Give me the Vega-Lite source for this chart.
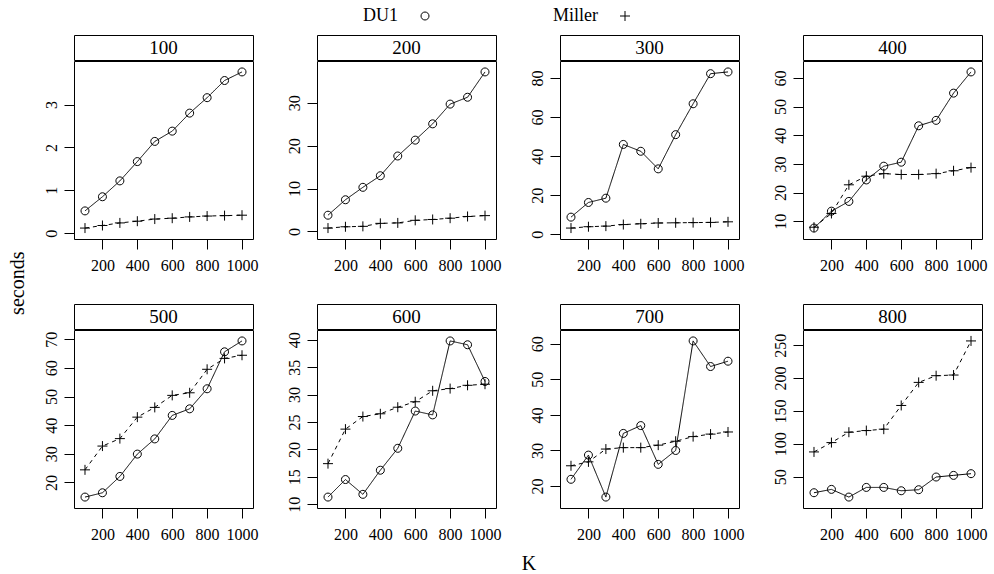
{
  "$schema": "https://vega.github.io/schema/vega-lite/v6.json",
  "padding": {"left": 7, "top": 7, "right": 4, "bottom": 0},
  "config": {
    "font": "Liberation Serif",
    "style": {"guide-label": {"font": "Liberation Serif"}, "guide-title": {"font": "Liberation Serif"}},
    "view": {"stroke": "black", "strokeWidth": 1},
    "axis": {"grid": false, "domain": false, "tickColor": "black", "tickSize": 10, "tickWidth": 1, "labelColor": "black", "labelFontSize": 16, "labelFont": "Liberation Serif", "labelFlush": false, "labelOverlap": false, "format": "d"},
    "axisX": {"labelPadding": 8},
    "axisY": {"labelAngle": 270, "labelAlign": "center", "labelBaseline": "bottom", "labelPadding": 5},
    "title": {"font": "Liberation Serif", "fontSize": 20, "fontWeight": "normal", "color": "black"},
    "legend": {"orient": "none", "legendX": 342, "legendY": -28, "direction": "horizontal", "labelFontSize": 18, "labelFont": "Liberation Serif", "labelColor": "black", "labelAlign": "right", "labelOffset": -36, "columnPadding": 122, "symbolSize": 100, "symbolStrokeWidth": 1, "symbolStrokeColor": "black"}
  },
  "datasets": {
    "strips": [{"panel": 100}, {"panel": 200}, {"panel": 300}, {"panel": 400}, {"panel": 500}, {"panel": 600}, {"panel": 700}, {"panel": 800}],
    "d": [
      {"panel":100,"K":100,"method":"DU1","seconds":0.52},{"panel":100,"K":200,"method":"DU1","seconds":0.85},{"panel":100,"K":300,"method":"DU1","seconds":1.22},{"panel":100,"K":400,"method":"DU1","seconds":1.67},{"panel":100,"K":500,"method":"DU1","seconds":2.14},{"panel":100,"K":600,"method":"DU1","seconds":2.38},{"panel":100,"K":700,"method":"DU1","seconds":2.80},{"panel":100,"K":800,"method":"DU1","seconds":3.16},{"panel":100,"K":900,"method":"DU1","seconds":3.56},{"panel":100,"K":1000,"method":"DU1","seconds":3.76},
      {"panel":100,"K":100,"method":"Miller","seconds":0.12},{"panel":100,"K":200,"method":"Miller","seconds":0.18},{"panel":100,"K":300,"method":"Miller","seconds":0.24},{"panel":100,"K":400,"method":"Miller","seconds":0.28},{"panel":100,"K":500,"method":"Miller","seconds":0.33},{"panel":100,"K":600,"method":"Miller","seconds":0.35},{"panel":100,"K":700,"method":"Miller","seconds":0.38},{"panel":100,"K":800,"method":"Miller","seconds":0.40},{"panel":100,"K":900,"method":"Miller","seconds":0.41},{"panel":100,"K":1000,"method":"Miller","seconds":0.42},
      {"panel":200,"K":100,"method":"DU1","seconds":3.8},{"panel":200,"K":200,"method":"DU1","seconds":7.4},{"panel":200,"K":300,"method":"DU1","seconds":10.3},{"panel":200,"K":400,"method":"DU1","seconds":13.0},{"panel":200,"K":500,"method":"DU1","seconds":17.6},{"panel":200,"K":600,"method":"DU1","seconds":21.3},{"panel":200,"K":700,"method":"DU1","seconds":25.1},{"panel":200,"K":800,"method":"DU1","seconds":29.7},{"panel":200,"K":900,"method":"DU1","seconds":31.3},{"panel":200,"K":1000,"method":"DU1","seconds":37.2},
      {"panel":200,"K":100,"method":"Miller","seconds":0.8},{"panel":200,"K":200,"method":"Miller","seconds":1.1},{"panel":200,"K":300,"method":"Miller","seconds":1.2},{"panel":200,"K":400,"method":"Miller","seconds":1.9},{"panel":200,"K":500,"method":"Miller","seconds":2.0},{"panel":200,"K":600,"method":"Miller","seconds":2.6},{"panel":200,"K":700,"method":"Miller","seconds":2.8},{"panel":200,"K":800,"method":"Miller","seconds":3.1},{"panel":200,"K":900,"method":"Miller","seconds":3.5},{"panel":200,"K":1000,"method":"Miller","seconds":3.7},
      {"panel":300,"K":100,"method":"DU1","seconds":8.8},{"panel":300,"K":200,"method":"DU1","seconds":16.3},{"panel":300,"K":300,"method":"DU1","seconds":18.5},{"panel":300,"K":400,"method":"DU1","seconds":46.0},{"panel":300,"K":500,"method":"DU1","seconds":42.5},{"panel":300,"K":600,"method":"DU1","seconds":33.5},{"panel":300,"K":700,"method":"DU1","seconds":51.0},{"panel":300,"K":800,"method":"DU1","seconds":66.8},{"panel":300,"K":900,"method":"DU1","seconds":82.2},{"panel":300,"K":1000,"method":"DU1","seconds":83.1},
      {"panel":300,"K":100,"method":"Miller","seconds":3.2},{"panel":300,"K":200,"method":"Miller","seconds":3.9},{"panel":300,"K":300,"method":"Miller","seconds":4.2},{"panel":300,"K":400,"method":"Miller","seconds":5.0},{"panel":300,"K":500,"method":"Miller","seconds":5.4},{"panel":300,"K":600,"method":"Miller","seconds":5.8},{"panel":300,"K":700,"method":"Miller","seconds":5.9},{"panel":300,"K":800,"method":"Miller","seconds":6.0},{"panel":300,"K":900,"method":"Miller","seconds":6.1},{"panel":300,"K":1000,"method":"Miller","seconds":6.4},
      {"panel":400,"K":100,"method":"DU1","seconds":7.6},{"panel":400,"K":200,"method":"DU1","seconds":13.5},{"panel":400,"K":300,"method":"DU1","seconds":16.9},{"panel":400,"K":400,"method":"DU1","seconds":24.4},{"panel":400,"K":500,"method":"DU1","seconds":29.2},{"panel":400,"K":600,"method":"DU1","seconds":30.6},{"panel":400,"K":700,"method":"DU1","seconds":43.3},{"panel":400,"K":800,"method":"DU1","seconds":45.2},{"panel":400,"K":900,"method":"DU1","seconds":54.7},{"panel":400,"K":1000,"method":"DU1","seconds":62.1},
      {"panel":400,"K":100,"method":"Miller","seconds":7.9},{"panel":400,"K":200,"method":"Miller","seconds":12.7},{"panel":400,"K":300,"method":"Miller","seconds":22.7},{"panel":400,"K":400,"method":"Miller","seconds":25.7},{"panel":400,"K":500,"method":"Miller","seconds":26.6},{"panel":400,"K":600,"method":"Miller","seconds":26.3},{"panel":400,"K":700,"method":"Miller","seconds":26.3},{"panel":400,"K":800,"method":"Miller","seconds":26.6},{"panel":400,"K":900,"method":"Miller","seconds":27.6},{"panel":400,"K":1000,"method":"Miller","seconds":28.7},
      {"panel":500,"K":100,"method":"DU1","seconds":14.9},{"panel":500,"K":200,"method":"DU1","seconds":16.4},{"panel":500,"K":300,"method":"DU1","seconds":22.1},{"panel":500,"K":400,"method":"DU1","seconds":29.9},{"panel":500,"K":500,"method":"DU1","seconds":35.2},{"panel":500,"K":600,"method":"DU1","seconds":43.4},{"panel":500,"K":700,"method":"DU1","seconds":45.7},{"panel":500,"K":800,"method":"DU1","seconds":52.7},{"panel":500,"K":900,"method":"DU1","seconds":65.6},{"panel":500,"K":1000,"method":"DU1","seconds":69.4},
      {"panel":500,"K":100,"method":"Miller","seconds":24.4},{"panel":500,"K":200,"method":"Miller","seconds":32.7},{"panel":500,"K":300,"method":"Miller","seconds":35.3},{"panel":500,"K":400,"method":"Miller","seconds":42.8},{"panel":500,"K":500,"method":"Miller","seconds":46.2},{"panel":500,"K":600,"method":"Miller","seconds":50.4},{"panel":500,"K":700,"method":"Miller","seconds":51.3},{"panel":500,"K":800,"method":"Miller","seconds":59.5},{"panel":500,"K":900,"method":"Miller","seconds":63.3},{"panel":500,"K":1000,"method":"Miller","seconds":64.4},
      {"panel":600,"K":100,"method":"DU1","seconds":11.3},{"panel":600,"K":200,"method":"DU1","seconds":14.5},{"panel":600,"K":300,"method":"DU1","seconds":11.8},{"panel":600,"K":400,"method":"DU1","seconds":16.2},{"panel":600,"K":500,"method":"DU1","seconds":20.2},{"panel":600,"K":600,"method":"DU1","seconds":27.0},{"panel":600,"K":700,"method":"DU1","seconds":26.3},{"panel":600,"K":800,"method":"DU1","seconds":39.8},{"panel":600,"K":900,"method":"DU1","seconds":39.1},{"panel":600,"K":1000,"method":"DU1","seconds":32.4},
      {"panel":600,"K":100,"method":"Miller","seconds":17.4},{"panel":600,"K":200,"method":"Miller","seconds":23.7},{"panel":600,"K":300,"method":"Miller","seconds":26.0},{"panel":600,"K":400,"method":"Miller","seconds":26.5},{"panel":600,"K":500,"method":"Miller","seconds":27.7},{"panel":600,"K":600,"method":"Miller","seconds":28.7},{"panel":600,"K":700,"method":"Miller","seconds":30.7},{"panel":600,"K":800,"method":"Miller","seconds":31.1},{"panel":600,"K":900,"method":"Miller","seconds":31.7},{"panel":600,"K":1000,"method":"Miller","seconds":31.9},
      {"panel":700,"K":100,"method":"DU1","seconds":21.9},{"panel":700,"K":200,"method":"DU1","seconds":28.7},{"panel":700,"K":300,"method":"DU1","seconds":16.9},{"panel":700,"K":400,"method":"DU1","seconds":34.8},{"panel":700,"K":500,"method":"DU1","seconds":37.0},{"panel":700,"K":600,"method":"DU1","seconds":26.1},{"panel":700,"K":700,"method":"DU1","seconds":30.0},{"panel":700,"K":800,"method":"DU1","seconds":60.8},{"panel":700,"K":900,"method":"DU1","seconds":53.6},{"panel":700,"K":1000,"method":"DU1","seconds":55.1},
      {"panel":700,"K":100,"method":"Miller","seconds":25.7},{"panel":700,"K":200,"method":"Miller","seconds":26.8},{"panel":700,"K":300,"method":"Miller","seconds":30.4},{"panel":700,"K":400,"method":"Miller","seconds":30.8},{"panel":700,"K":500,"method":"Miller","seconds":30.8},{"panel":700,"K":600,"method":"Miller","seconds":31.5},{"panel":700,"K":700,"method":"Miller","seconds":32.6},{"panel":700,"K":800,"method":"Miller","seconds":33.9},{"panel":700,"K":900,"method":"Miller","seconds":34.6},{"panel":700,"K":1000,"method":"Miller","seconds":35.2},
      {"panel":800,"K":100,"method":"DU1","seconds":25.6},{"panel":800,"K":200,"method":"DU1","seconds":30.7},{"panel":800,"K":300,"method":"DU1","seconds":19.0},{"panel":800,"K":400,"method":"DU1","seconds":33.7},{"panel":800,"K":500,"method":"DU1","seconds":33.7},{"panel":800,"K":600,"method":"DU1","seconds":28.6},{"panel":800,"K":700,"method":"DU1","seconds":30.2},{"panel":800,"K":800,"method":"DU1","seconds":49.5},{"panel":800,"K":900,"method":"DU1","seconds":52.0},{"panel":800,"K":1000,"method":"DU1","seconds":54.6},
      {"panel":800,"K":100,"method":"Miller","seconds":87.7},{"panel":800,"K":200,"method":"Miller","seconds":101.9},{"panel":800,"K":300,"method":"Miller","seconds":117.7},{"panel":800,"K":400,"method":"Miller","seconds":120.2},{"panel":800,"K":500,"method":"Miller","seconds":122.3},{"panel":800,"K":600,"method":"Miller","seconds":158.4},{"panel":800,"K":700,"method":"Miller","seconds":193.5},{"panel":800,"K":800,"method":"Miller","seconds":203.7},{"panel":800,"K":900,"method":"Miller","seconds":204.7},{"panel":800,"K":1000,"method":"Miller","seconds":256.6}
    ]
  },
  "title": {"text": "seconds", "orient": "left", "anchor": "middle", "offset": 15, "dx": 7},
  "vconcat": [
    {
      "title": {"text": "K", "orient": "bottom", "anchor": "middle", "offset": 11, "dx": 14},
      "spacing": 29,
      "vconcat": [
        {
          "spacing": 26,
          "hconcat": [
            {"spacing": -4, "vconcat": [
              {"data": {"name": "strips"}, "transform": [{"filter": "datum.panel == 100"}], "width": 179, "height": 25, "view": {"stroke": "black", "strokeWidth": 1, "fill": "white"}, "mark": {"type": "text", "fontSize": 19, "font": "Liberation Serif", "color": "black"}, "encoding": {"text": {"field": "panel", "type": "nominal"}}},
              {"data": {"name": "d"}, "transform": [{"filter": "datum.panel == 100"}], "width": 179, "height": 178,
               "encoding": {"x": {"field": "K", "type": "quantitative", "scale": {"domain": [37, 1063], "nice": false, "zero": false}, "axis": {"title": null, "values": [200, 400, 600, 800, 1000]}},
                            "y": {"field": "seconds", "type": "quantitative", "scale": {"domain": [-0.135, 4.015], "nice": false, "zero": false}, "axis": {"title": null, "values": [0, 1, 2, 3]}}},
               "layer": [
                 {"mark": {"type": "line", "color": "black", "strokeWidth": 1}, "encoding": {"strokeDash": {"field": "method", "type": "nominal", "scale": {"range": [[1, 0], [4, 4]]}, "legend": null}}},
                 {"mark": {"type": "point", "filled": false, "color": "black", "strokeWidth": 1, "size": 100, "opacity": 1}, "encoding": {"shape": {"field": "method", "type": "nominal", "scale": {"domain": ["DU1", "Miller"], "range": ["M0.8,0A0.8,0.8 0 1,1 -0.8,0A0.8,0.8 0 1,1 0.8,0Z", "M-1,0H1M0,-1V1"]}, "legend": {"title": null, "labelFont": "Liberation Serif", "labelFontSize": 18}}}}
               ]}
            ]},
            {"spacing": -4, "vconcat": [
              {"data": {"name": "strips"}, "transform": [{"filter": "datum.panel == 200"}], "width": 179, "height": 25, "view": {"stroke": "black", "strokeWidth": 1, "fill": "white"}, "mark": {"type": "text", "fontSize": 19, "font": "Liberation Serif", "color": "black"}, "encoding": {"text": {"field": "panel", "type": "nominal"}}},
              {"data": {"name": "d"}, "transform": [{"filter": "datum.panel == 200"}], "width": 179, "height": 178,
               "encoding": {"x": {"field": "K", "type": "quantitative", "scale": {"domain": [37, 1063], "nice": false, "zero": false}, "axis": {"title": null, "values": [200, 400, 600, 800, 1000]}},
                            "y": {"field": "seconds", "type": "quantitative", "scale": {"domain": [-1.75, 39.75], "nice": false, "zero": false}, "axis": {"title": null, "values": [0, 10, 20, 30]}}},
               "layer": [
                 {"mark": {"type": "line", "color": "black", "strokeWidth": 1}, "encoding": {"strokeDash": {"field": "method", "type": "nominal", "scale": {"range": [[1, 0], [4, 4]]}, "legend": null}}},
                 {"mark": {"type": "point", "filled": false, "color": "black", "strokeWidth": 1, "size": 100, "opacity": 1}, "encoding": {"shape": {"field": "method", "type": "nominal", "scale": {"domain": ["DU1", "Miller"], "range": ["M0.8,0A0.8,0.8 0 1,1 -0.8,0A0.8,0.8 0 1,1 0.8,0Z", "M-1,0H1M0,-1V1"]}, "legend": {"title": null, "labelFont": "Liberation Serif", "labelFontSize": 18}}}}
               ]}
            ]},
            {"spacing": -4, "vconcat": [
              {"data": {"name": "strips"}, "transform": [{"filter": "datum.panel == 300"}], "width": 179, "height": 25, "view": {"stroke": "black", "strokeWidth": 1, "fill": "white"}, "mark": {"type": "text", "fontSize": 19, "font": "Liberation Serif", "color": "black"}, "encoding": {"text": {"field": "panel", "type": "nominal"}}},
              {"data": {"name": "d"}, "transform": [{"filter": "datum.panel == 300"}], "width": 179, "height": 178,
               "encoding": {"x": {"field": "K", "type": "quantitative", "scale": {"domain": [37, 1063], "nice": false, "zero": false}, "axis": {"title": null, "values": [200, 400, 600, 800, 1000]}},
                            "y": {"field": "seconds", "type": "quantitative", "scale": {"domain": [-2.39, 88.69], "nice": false, "zero": false}, "axis": {"title": null, "values": [0, 20, 40, 60, 80]}}},
               "layer": [
                 {"mark": {"type": "line", "color": "black", "strokeWidth": 1}, "encoding": {"strokeDash": {"field": "method", "type": "nominal", "scale": {"range": [[1, 0], [4, 4]]}, "legend": null}}},
                 {"mark": {"type": "point", "filled": false, "color": "black", "strokeWidth": 1, "size": 100, "opacity": 1}, "encoding": {"shape": {"field": "method", "type": "nominal", "scale": {"domain": ["DU1", "Miller"], "range": ["M0.8,0A0.8,0.8 0 1,1 -0.8,0A0.8,0.8 0 1,1 0.8,0Z", "M-1,0H1M0,-1V1"]}, "legend": {"title": null, "labelFont": "Liberation Serif", "labelFontSize": 18}}}}
               ]}
            ]},
            {"spacing": -4, "vconcat": [
              {"data": {"name": "strips"}, "transform": [{"filter": "datum.panel == 400"}], "width": 179, "height": 25, "view": {"stroke": "black", "strokeWidth": 1, "fill": "white"}, "mark": {"type": "text", "fontSize": 19, "font": "Liberation Serif", "color": "black"}, "encoding": {"text": {"field": "panel", "type": "nominal"}}},
              {"data": {"name": "d"}, "transform": [{"filter": "datum.panel == 400"}], "width": 179, "height": 178,
               "encoding": {"x": {"field": "K", "type": "quantitative", "scale": {"domain": [37, 1063], "nice": false, "zero": false}, "axis": {"title": null, "values": [200, 400, 600, 800, 1000]}},
                            "y": {"field": "seconds", "type": "quantitative", "scale": {"domain": [3.785, 65.915], "nice": false, "zero": false}, "axis": {"title": null, "values": [10, 20, 30, 40, 50, 60]}}},
               "layer": [
                 {"mark": {"type": "line", "color": "black", "strokeWidth": 1}, "encoding": {"strokeDash": {"field": "method", "type": "nominal", "scale": {"range": [[1, 0], [4, 4]]}, "legend": null}}},
                 {"mark": {"type": "point", "filled": false, "color": "black", "strokeWidth": 1, "size": 100, "opacity": 1}, "encoding": {"shape": {"field": "method", "type": "nominal", "scale": {"domain": ["DU1", "Miller"], "range": ["M0.8,0A0.8,0.8 0 1,1 -0.8,0A0.8,0.8 0 1,1 0.8,0Z", "M-1,0H1M0,-1V1"]}, "legend": {"title": null, "labelFont": "Liberation Serif", "labelFontSize": 18}}}}
               ]}
            ]}
          ]
        },
        {
          "spacing": 26,
          "hconcat": [
            {"spacing": -4, "vconcat": [
              {"data": {"name": "strips"}, "transform": [{"filter": "datum.panel == 500"}], "width": 179, "height": 25, "view": {"stroke": "black", "strokeWidth": 1, "fill": "white"}, "mark": {"type": "text", "fontSize": 19, "font": "Liberation Serif", "color": "black"}, "encoding": {"text": {"field": "panel", "type": "nominal"}}},
              {"data": {"name": "d"}, "transform": [{"filter": "datum.panel == 500"}], "width": 179, "height": 178,
               "encoding": {"x": {"field": "K", "type": "quantitative", "scale": {"domain": [37, 1063], "nice": false, "zero": false}, "axis": {"title": null, "values": [200, 400, 600, 800, 1000]}},
                            "y": {"field": "seconds", "type": "quantitative", "scale": {"domain": [11.085, 73.215], "nice": false, "zero": false}, "axis": {"title": null, "values": [20, 30, 40, 50, 60, 70]}}},
               "layer": [
                 {"mark": {"type": "line", "color": "black", "strokeWidth": 1}, "encoding": {"strokeDash": {"field": "method", "type": "nominal", "scale": {"range": [[1, 0], [4, 4]]}, "legend": null}}},
                 {"mark": {"type": "point", "filled": false, "color": "black", "strokeWidth": 1, "size": 100, "opacity": 1}, "encoding": {"shape": {"field": "method", "type": "nominal", "scale": {"domain": ["DU1", "Miller"], "range": ["M0.8,0A0.8,0.8 0 1,1 -0.8,0A0.8,0.8 0 1,1 0.8,0Z", "M-1,0H1M0,-1V1"]}, "legend": {"title": null, "labelFont": "Liberation Serif", "labelFontSize": 18}}}}
               ]}
            ]},
            {"spacing": -4, "vconcat": [
              {"data": {"name": "strips"}, "transform": [{"filter": "datum.panel == 600"}], "width": 179, "height": 25, "view": {"stroke": "black", "strokeWidth": 1, "fill": "white"}, "mark": {"type": "text", "fontSize": 19, "font": "Liberation Serif", "color": "black"}, "encoding": {"text": {"field": "panel", "type": "nominal"}}},
              {"data": {"name": "d"}, "transform": [{"filter": "datum.panel == 600"}], "width": 179, "height": 178,
               "encoding": {"x": {"field": "K", "type": "quantitative", "scale": {"domain": [37, 1063], "nice": false, "zero": false}, "axis": {"title": null, "values": [200, 400, 600, 800, 1000]}},
                            "y": {"field": "seconds", "type": "quantitative", "scale": {"domain": [9.305, 41.795], "nice": false, "zero": false}, "axis": {"title": null, "values": [10, 15, 20, 25, 30, 35, 40]}}},
               "layer": [
                 {"mark": {"type": "line", "color": "black", "strokeWidth": 1}, "encoding": {"strokeDash": {"field": "method", "type": "nominal", "scale": {"range": [[1, 0], [4, 4]]}, "legend": null}}},
                 {"mark": {"type": "point", "filled": false, "color": "black", "strokeWidth": 1, "size": 100, "opacity": 1}, "encoding": {"shape": {"field": "method", "type": "nominal", "scale": {"domain": ["DU1", "Miller"], "range": ["M0.8,0A0.8,0.8 0 1,1 -0.8,0A0.8,0.8 0 1,1 0.8,0Z", "M-1,0H1M0,-1V1"]}, "legend": {"title": null, "labelFont": "Liberation Serif", "labelFontSize": 18}}}}
               ]}
            ]},
            {"spacing": -4, "vconcat": [
              {"data": {"name": "strips"}, "transform": [{"filter": "datum.panel == 700"}], "width": 179, "height": 25, "view": {"stroke": "black", "strokeWidth": 1, "fill": "white"}, "mark": {"type": "text", "fontSize": 19, "font": "Liberation Serif", "color": "black"}, "encoding": {"text": {"field": "panel", "type": "nominal"}}},
              {"data": {"name": "d"}, "transform": [{"filter": "datum.panel == 700"}], "width": 179, "height": 178,
               "encoding": {"x": {"field": "K", "type": "quantitative", "scale": {"domain": [37, 1063], "nice": false, "zero": false}, "axis": {"title": null, "values": [200, 400, 600, 800, 1000]}},
                            "y": {"field": "seconds", "type": "quantitative", "scale": {"domain": [13.83, 63.87], "nice": false, "zero": false}, "axis": {"title": null, "values": [20, 30, 40, 50, 60]}}},
               "layer": [
                 {"mark": {"type": "line", "color": "black", "strokeWidth": 1}, "encoding": {"strokeDash": {"field": "method", "type": "nominal", "scale": {"range": [[1, 0], [4, 4]]}, "legend": null}}},
                 {"mark": {"type": "point", "filled": false, "color": "black", "strokeWidth": 1, "size": 100, "opacity": 1}, "encoding": {"shape": {"field": "method", "type": "nominal", "scale": {"domain": ["DU1", "Miller"], "range": ["M0.8,0A0.8,0.8 0 1,1 -0.8,0A0.8,0.8 0 1,1 0.8,0Z", "M-1,0H1M0,-1V1"]}, "legend": {"title": null, "labelFont": "Liberation Serif", "labelFontSize": 18}}}}
               ]}
            ]},
            {"spacing": -4, "vconcat": [
              {"data": {"name": "strips"}, "transform": [{"filter": "datum.panel == 800"}], "width": 179, "height": 25, "view": {"stroke": "black", "strokeWidth": 1, "fill": "white"}, "mark": {"type": "text", "fontSize": 19, "font": "Liberation Serif", "color": "black"}, "encoding": {"text": {"field": "panel", "type": "nominal"}}},
              {"data": {"name": "d"}, "transform": [{"filter": "datum.panel == 800"}], "width": 179, "height": 178,
               "encoding": {"x": {"field": "K", "type": "quantitative", "scale": {"domain": [37, 1063], "nice": false, "zero": false}, "axis": {"title": null, "values": [200, 400, 600, 800, 1000]}},
                            "y": {"field": "seconds", "type": "quantitative", "scale": {"domain": [2.37, 273.23], "nice": false, "zero": false}, "axis": {"title": null, "values": [50, 100, 150, 200, 250]}}},
               "layer": [
                 {"mark": {"type": "line", "color": "black", "strokeWidth": 1}, "encoding": {"strokeDash": {"field": "method", "type": "nominal", "scale": {"range": [[1, 0], [4, 4]]}, "legend": null}}},
                 {"mark": {"type": "point", "filled": false, "color": "black", "strokeWidth": 1, "size": 100, "opacity": 1}, "encoding": {"shape": {"field": "method", "type": "nominal", "scale": {"domain": ["DU1", "Miller"], "range": ["M0.8,0A0.8,0.8 0 1,1 -0.8,0A0.8,0.8 0 1,1 0.8,0Z", "M-1,0H1M0,-1V1"]}, "legend": {"title": null, "labelFont": "Liberation Serif", "labelFontSize": 18}}}}
               ]}
            ]}
          ]
        }
      ]
    }
  ]
}
